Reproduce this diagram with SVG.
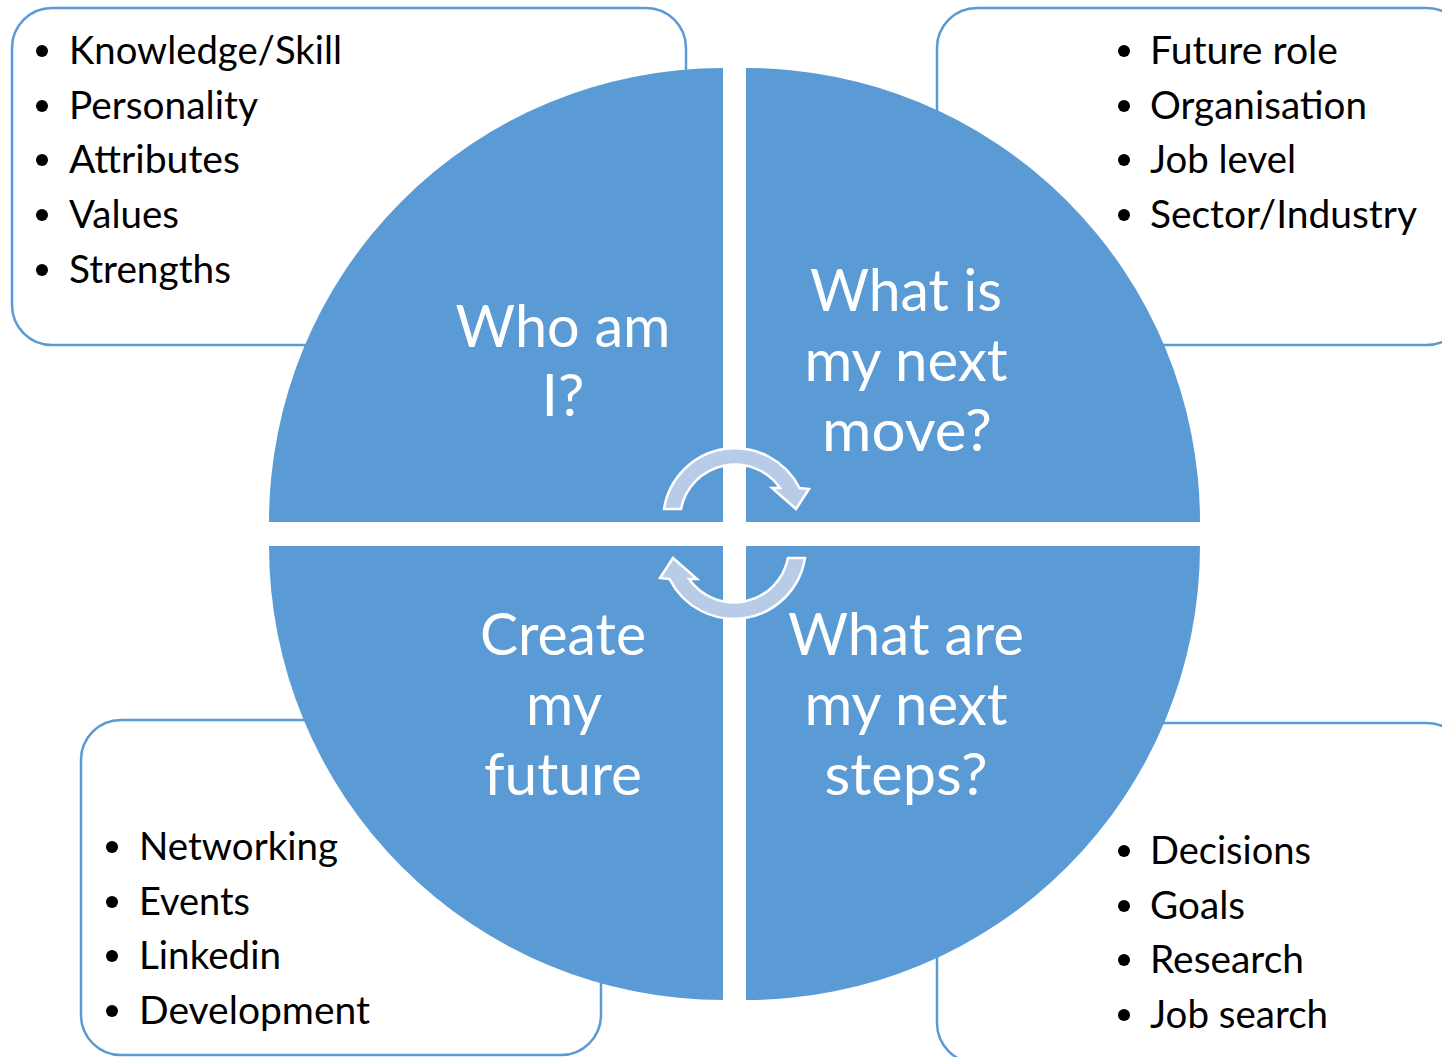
<svg xmlns="http://www.w3.org/2000/svg" width="1442" height="1057" viewBox="0 0 1442 1057">
<style>
.box{fill:#fff;stroke:#5B9BD5;stroke-width:2.5}
.q{fill:#5B9BD5}
.item{font-family:Lato,"Open Sans",sans-serif;font-size:38px;fill:#000}
.lbl{font-family:Lato,"Open Sans",sans-serif;font-size:58px;fill:#fff;text-anchor:middle}
.arr{fill:#B8CCE8;stroke:#fff;stroke-width:2.5;stroke-linejoin:miter}
.dot{fill:#000}
</style>
<rect width="1442" height="1057" fill="#fff"/>
<g id="box-tl"><rect class="box" x="12" y="8" width="674" height="337" rx="40"/></g>
<g id="box-tr"><rect class="box" x="937" y="8" width="530" height="337" rx="40"/></g>
<g id="box-bl"><rect class="box" x="81" y="720" width="520" height="335" rx="40"/></g>
<g id="box-br"><rect class="box" x="937" y="723" width="530" height="340" rx="40"/></g>

<g id="q-tl"><path class="q" d="M723,522 L269,522 A454,454 0 0 1 723,68 Z"/></g>
<g id="q-tr"><path class="q" d="M746,522 L746,68 A454,454 0 0 1 1200,522 Z"/></g>
<g id="q-bl"><path class="q" d="M723,546 L723,1000 A454,454 0 0 1 269,546 Z"/></g>
<g id="q-br"><path class="q" d="M746,546 L1200,546 A454,454 0 0 1 746,1000 Z"/></g>

<g id="connectors">
<path id="arrow-top" class="arr" d="M664,509 A72,72 0 0 1 799.5,488 L809,489 L796,509 L772,488 L780,488 A55,55 0 0 0 681,509 Z"/>
<path id="arrow-bottom" class="arr" transform="rotate(180 734.5 533.5)" d="M664,509 A72,72 0 0 1 799.5,488 L809,489 L796,509 L772,488 L780,488 A55,55 0 0 0 681,509 Z"/>
</g>

<g id="labels">
<text class="lbl"><tspan x="563" y="347" textLength="215" lengthAdjust="spacingAndGlyphs">Who am</tspan><tspan x="563" y="416" textLength="43" lengthAdjust="spacingAndGlyphs">I?</tspan></text>
<text class="lbl"><tspan x="906" y="311" textLength="192" lengthAdjust="spacingAndGlyphs">What is</tspan><tspan x="906" y="381" textLength="203" lengthAdjust="spacingAndGlyphs">my next</tspan><tspan x="907" y="451" textLength="170" lengthAdjust="spacingAndGlyphs">move?</tspan></text>
<text class="lbl"><tspan x="563" y="655" textLength="166" lengthAdjust="spacingAndGlyphs">Create</tspan><tspan x="564" y="725" textLength="76" lengthAdjust="spacingAndGlyphs">my</tspan><tspan x="563" y="795" textLength="158" lengthAdjust="spacingAndGlyphs">future</tspan></text>
<text class="lbl"><tspan x="906" y="655" textLength="236" lengthAdjust="spacingAndGlyphs">What are</tspan><tspan x="906" y="725" textLength="203" lengthAdjust="spacingAndGlyphs">my next</tspan><tspan x="906" y="795" textLength="163" lengthAdjust="spacingAndGlyphs">steps?</tspan></text>
</g>

<g id="list-tl">
<circle class="dot" cx="42" cy="51" r="6"/><circle class="dot" cx="42" cy="106" r="6"/><circle class="dot" cx="42" cy="160" r="6"/><circle class="dot" cx="42" cy="215" r="6"/><circle class="dot" cx="42" cy="270" r="6"/>
<text class="item" x="69" y="64" textLength="273" lengthAdjust="spacingAndGlyphs">Knowledge/Skill</text>
<text class="item" x="69" y="119" textLength="189" lengthAdjust="spacingAndGlyphs">Personality</text>
<text class="item" x="69" y="173" textLength="171" lengthAdjust="spacingAndGlyphs">Attributes</text>
<text class="item" x="69" y="228" textLength="110" lengthAdjust="spacingAndGlyphs">Values</text>
<text class="item" x="69" y="283" textLength="162" lengthAdjust="spacingAndGlyphs">Strengths</text>
</g>
<g id="list-tr">
<circle class="dot" cx="1124" cy="51" r="6"/><circle class="dot" cx="1124" cy="106" r="6"/><circle class="dot" cx="1124" cy="160" r="6"/><circle class="dot" cx="1124" cy="215" r="6"/>
<text class="item" x="1150" y="64" textLength="188" lengthAdjust="spacingAndGlyphs">Future role</text>
<text class="item" x="1150" y="119" textLength="217" lengthAdjust="spacingAndGlyphs">Organisation</text>
<text class="item" x="1150" y="173" textLength="146" lengthAdjust="spacingAndGlyphs">Job level</text>
<text class="item" x="1150" y="228" textLength="267" lengthAdjust="spacingAndGlyphs">Sector/Industry</text>
</g>
<g id="list-bl">
<circle class="dot" cx="112" cy="847" r="6"/><circle class="dot" cx="112" cy="902" r="6"/><circle class="dot" cx="112" cy="956" r="6"/><circle class="dot" cx="112" cy="1011" r="6"/>
<text class="item" x="139" y="860" textLength="199" lengthAdjust="spacingAndGlyphs">Networking</text>
<text class="item" x="139" y="915" textLength="111" lengthAdjust="spacingAndGlyphs">Events</text>
<text class="item" x="139" y="969" textLength="142" lengthAdjust="spacingAndGlyphs">Linkedin</text>
<text class="item" x="139" y="1024" textLength="231" lengthAdjust="spacingAndGlyphs">Development</text>
</g>
<g id="list-br">
<circle class="dot" cx="1124" cy="851" r="6"/><circle class="dot" cx="1124" cy="906" r="6"/><circle class="dot" cx="1124" cy="960" r="6"/><circle class="dot" cx="1124" cy="1015" r="6"/>
<text class="item" x="1150" y="864" textLength="161" lengthAdjust="spacingAndGlyphs">Decisions</text>
<text class="item" x="1150" y="919" textLength="95" lengthAdjust="spacingAndGlyphs">Goals</text>
<text class="item" x="1150" y="973" textLength="154" lengthAdjust="spacingAndGlyphs">Research</text>
<text class="item" x="1150" y="1028" textLength="178" lengthAdjust="spacingAndGlyphs">Job search</text>
</g>
</svg>
